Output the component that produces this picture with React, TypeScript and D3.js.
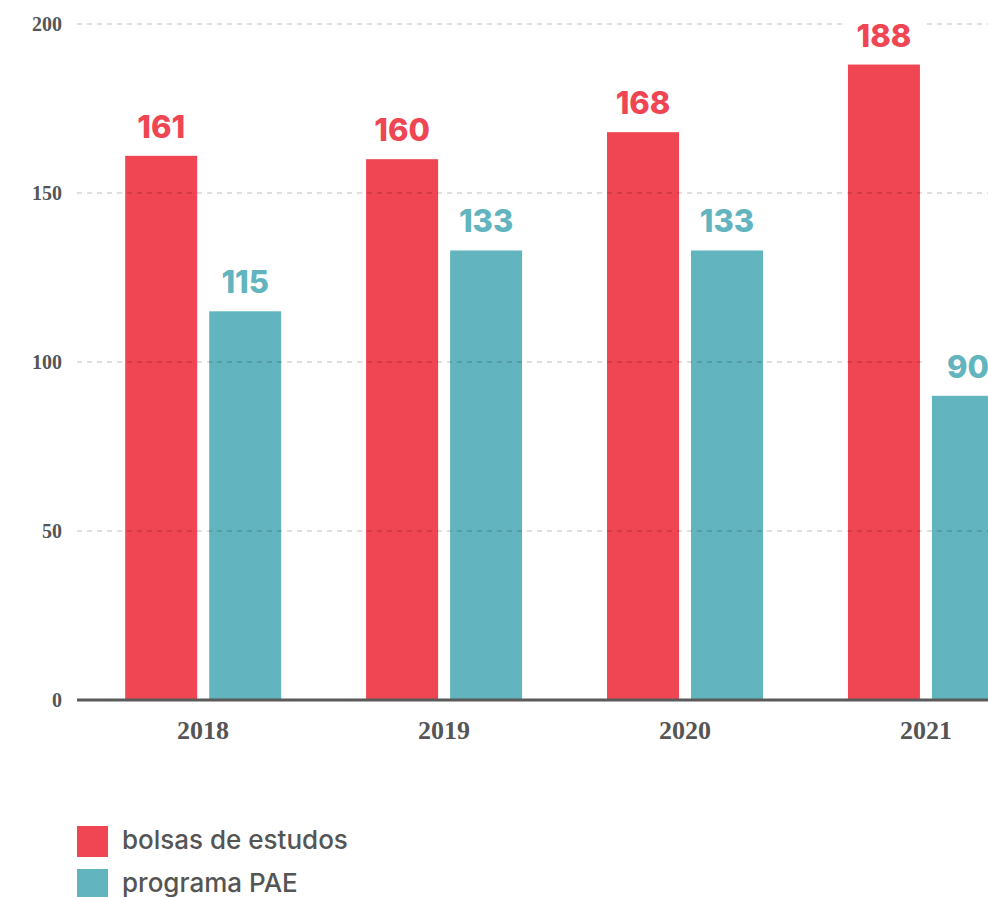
import React from "react";
import * as d3 from "d3";

// dados do gráfico
const years = ["2018", "2019", "2020", "2021"];
const bolsas = [161, 160, 168, 188];
const pae = [115, 133, 133, 90];
const yTicks = [0, 50, 100, 150, 200];
const seriesNames = ["bolsas de estudos", "programa PAE"];
const seriesColors = ["#F04552", "#62B4BE"];

const W = 988;
const H = 897;

export default function App() {
  const left = 77;
  const y0 = 700;
  const yTop = 24;

  const y = d3.scaleLinear().domain([0, 200]).range([y0, yTop]);
  // a última barra sai do quadro, como no original
  const x = d3
    .scaleBand<string>()
    .domain(years)
    .range([left, 1052])
    .paddingInner(0.353)
    .paddingOuter(0.2);
  const bw = 72;
  const gap = 12;

  const series = [bolsas, pae];

  return (
    <svg
      width={W}
      height={H}
      style={{ position: "absolute", left: 0, top: 0, background: "#fff" }}
    >
      {/* barras */}
      {years.map((yr, i) =>
        series.map((s, k) => {
          const bx = (x(yr) as number) + k * (bw + gap);
          return (
            <rect
              key={yr + k}
              x={bx}
              y={y(s[i])}
              width={bw}
              height={y0 - y(s[i])}
              fill={seriesColors[k]}
            />
          );
        })
      )}

      {/* grade por cima das barras */}
      {yTicks
        .filter((t) => t > 0)
        .map((t) => (
          <line
            key={t}
            x1={left}
            x2={W}
            y1={y(t)}
            y2={y(t)}
            stroke="#000"
            strokeOpacity={0.17}
            strokeWidth={1.5}
            strokeDasharray="5 5"
          />
        ))}

      {/* rótulos de valor */}
      {years.map((yr, i) =>
        series.map((s, k) => {
          const cx = (x(yr) as number) + k * (bw + gap) + bw / 2;
          const by = y(s[i]) - 18;
          return (
            <g key={"l" + yr + k}>
              <rect x={cx - 42} y={by - 26} width={84} height={32} fill="#fff" />
              <text
                x={cx}
                y={by}
                textAnchor="middle"
                fontFamily="Inter, 'Open Sans', sans-serif"
                fontWeight={800}
                fontSize={31}
                fill={seriesColors[k]}
              >
                {s[i]}
              </text>
            </g>
          );
        })
      )}

      {/* eixo */}
      <line x1={left} x2={W} y1={y0} y2={y0} stroke="#5a5a5a" strokeWidth={3} />

      {yTicks.map((t) => (
        <text
          key={"t" + t}
          x={62}
          y={y(t) + 7}
          textAnchor="end"
          fontFamily="'Liberation Serif', serif"
          fontWeight={700}
          fontSize={20}
          fill="#555"
        >
          {t}
        </text>
      ))}

      {years.map((yr) => (
        <text
          key={"x" + yr}
          x={(x(yr) as number) + x.bandwidth() / 2}
          y={739}
          textAnchor="middle"
          fontFamily="'Liberation Serif', serif"
          fontWeight={700}
          fontSize={26}
          fill="#555"
        >
          {yr}
        </text>
      ))}

      {/* legenda */}
      {seriesNames.map((n, k) => (
        <g key={n} transform={`translate(77, ${826 + k * 43})`}>
          <rect width={31} height={31} fill={seriesColors[k]} />
          <text
            x={45}
            y={23}
            fontFamily="Inter, 'Open Sans', sans-serif"
            fontWeight={500}
            fontSize={26}
            fill="#555"
          >
            {n}
          </text>
        </g>
      ))}
    </svg>
  );
}
